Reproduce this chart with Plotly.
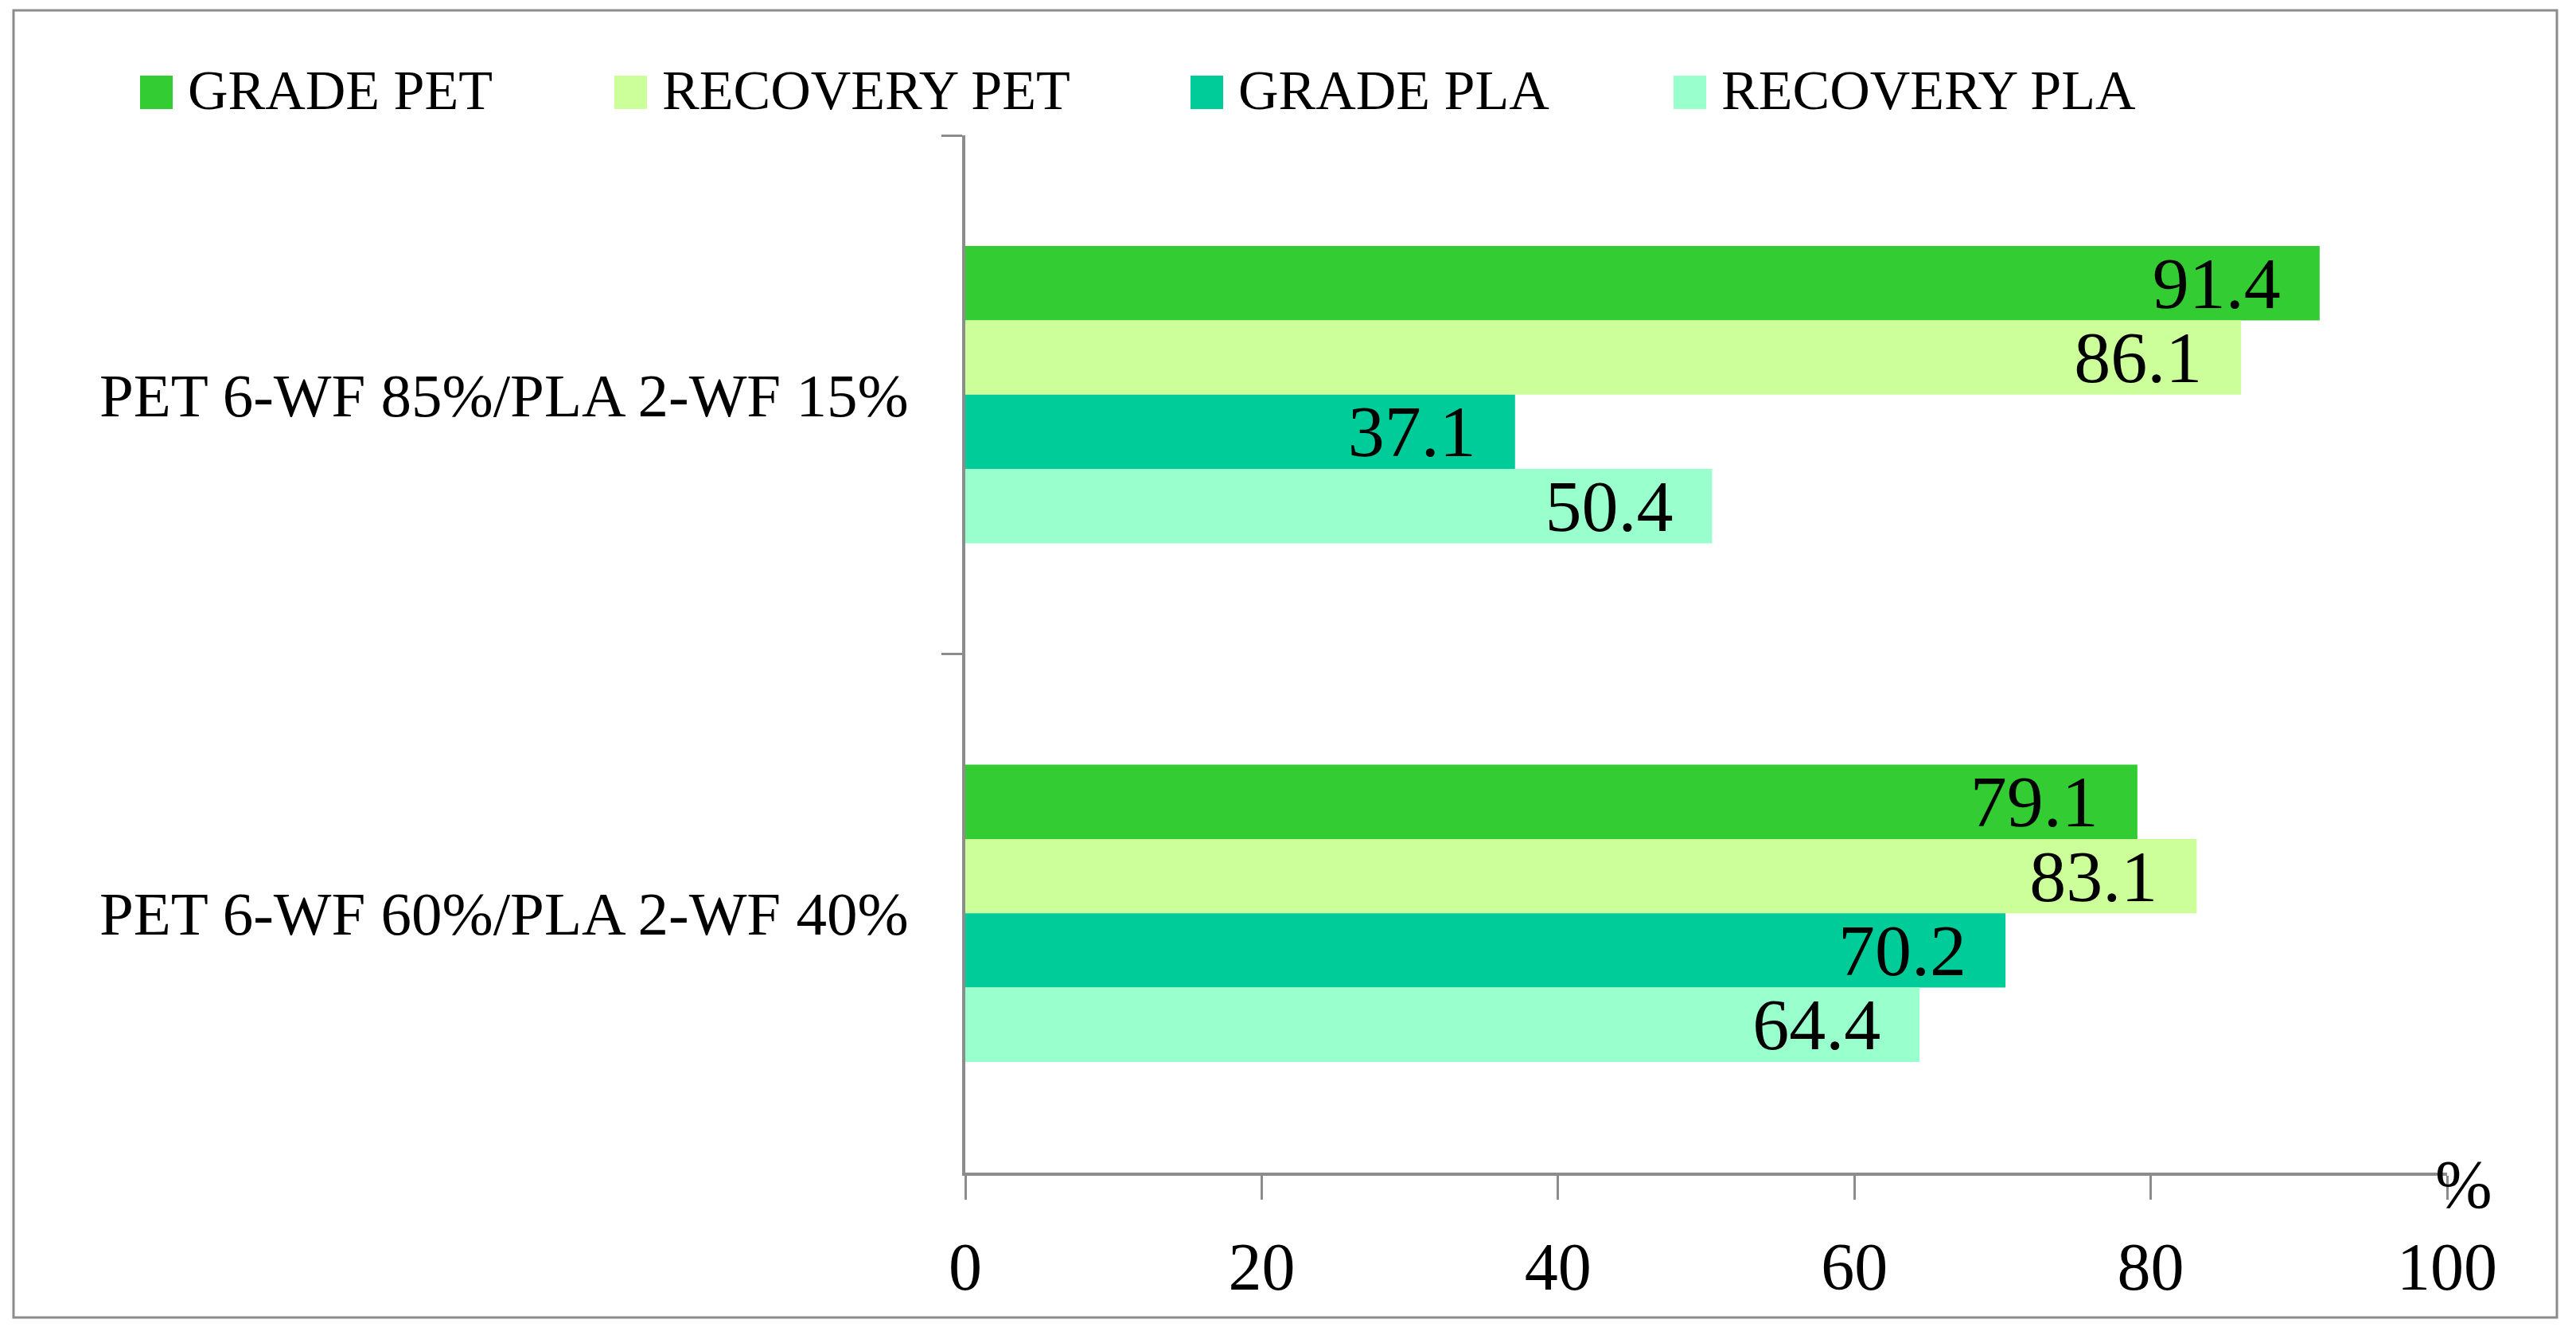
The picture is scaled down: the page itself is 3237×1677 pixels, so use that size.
import plotly.graph_objects as go

# ---- data ----
categories = ["PET 6-WF 85%/PLA 2-WF 15%", "PET 6-WF 60%/PLA 2-WF 40%"]
series_names = ["GRADE PET", "RECOVERY PET", "GRADE PLA", "RECOVERY PLA"]
grade_pet = [91.4, 79.1]
recovery_pet = [86.1, 83.1]
grade_pla = [37.1, 70.2]
recovery_pla = [50.4, 64.4]
series_values = [grade_pet, recovery_pet, grade_pla, recovery_pla]
x_ticks = [0, 20, 40, 60, 80, 100]
x_unit = "%"

# ---- style ----
colors = ["#33CC33", "#CCFF99", "#00CC99", "#99FFCC"]
FONT = "Liberation Serif"
PAGE_W, PAGE_H = 3237, 1677
OFF = 8  # default page body margin
W, H = PAGE_W - 2 * OFF, PAGE_H - 2 * OFF
# plot area in page pixels
PX0, PX1, PY0, PY1 = 1213, 3075, 170, 1473
L, T = PX0 - OFF, PY0 - OFF
R, B = W - (PX1 - OFF), H - (PY1 - OFF)
AXIS_GRAY = "#8C8C8C"

pw, ph = PX1 - PX0, PY1 - PY0


def px2paper(x, y):
    """page pixel -> paper coordinates"""
    return (x - PX0) / pw, (PY1 - y) / ph


fig = go.Figure()
for name, vals, col in zip(series_names, series_values, colors):
    fig.add_trace(go.Bar(
        y=categories, x=vals, name=name, orientation="h",
        marker=dict(color=col, line=dict(width=0)),
        text=[f"{v:.1f}\u00a0\u00a0" for v in vals],
        textposition="inside", insidetextanchor="end",
        textangle=0, constraintext="none",
        textfont=dict(family=FONT, size=92, color="black"),
        showlegend=False, hoverinfo="x+name",
    ))

shapes = []
annotations = []

# custom legend (large squares like the original)
legend_square_left = [176, 772, 1496, 2103]
sq_top, sq_bot, sq_w = 95, 137, 41
for name, col, sx in zip(series_names, colors, legend_square_left):
    x0, y0 = px2paper(sx, sq_bot)
    x1, y1 = px2paper(sx + sq_w, sq_top)
    shapes.append(dict(type="rect", xref="paper", yref="paper",
                       x0=x0, y0=y0, x1=x1, y1=y1,
                       fillcolor=col, line=dict(width=0)))
    tx, ty = px2paper(sx + 58, (sq_top + sq_bot) / 2 - 3)
    annotations.append(dict(text=name, xref="paper", yref="paper", x=tx, y=ty,
                            xanchor="left", yanchor="middle", showarrow=False,
                            font=dict(family=FONT, size=70, color="black")))

# outer border
bx0, by0 = px2paper(17, 1655)
bx1, by1 = px2paper(3213, 13)
shapes.append(dict(type="rect", xref="paper", yref="paper",
                   x0=bx0, y0=by0, x1=bx1, y1=by1,
                   line=dict(color=AXIS_GRAY, width=3), fillcolor="rgba(0,0,0,0)"))

# unit label at end of x axis
ux, uy = px2paper(3096, 1488)
annotations.append(dict(text=x_unit, xref="paper", yref="paper", x=ux, y=uy,
                        xanchor="center", yanchor="middle", showarrow=False,
                        font=dict(family=FONT, size=86, color="black")))

fig.update_layout(
    width=W, height=H, autosize=False,
    margin=dict(l=L, r=R, t=T, b=B, pad=0),
    paper_bgcolor="white", plot_bgcolor="white",
    barmode="group", bargap=0.427, bargroupgap=0,
    font=dict(family=FONT, color="black"),
    shapes=shapes, annotations=annotations,
    showlegend=False,
)
fig.update_xaxes(
    range=[0, 100], tickvals=x_ticks, ticktext=[str(t) for t in x_ticks],
    showgrid=False, zeroline=False,
    showline=True, linecolor=AXIS_GRAY, linewidth=4,
    ticks="outside", ticklen=30, tickwidth=3, tickcolor=AXIS_GRAY,
    tickfont=dict(family=FONT, size=84, color="black"),
    ticklabelstandoff=12,
)
fig.update_yaxes(
    autorange="reversed", type="category",
    showgrid=False, zeroline=False,
    showline=True, linecolor=AXIS_GRAY, linewidth=4,
    ticks="outside", ticklen=26, tickwidth=3, tickcolor=AXIS_GRAY,
    tickson="boundaries",
    tickfont=dict(family=FONT, size=77, color="black"),
    ticklabelstandoff=52,
)

fig.write_html("out.html")
